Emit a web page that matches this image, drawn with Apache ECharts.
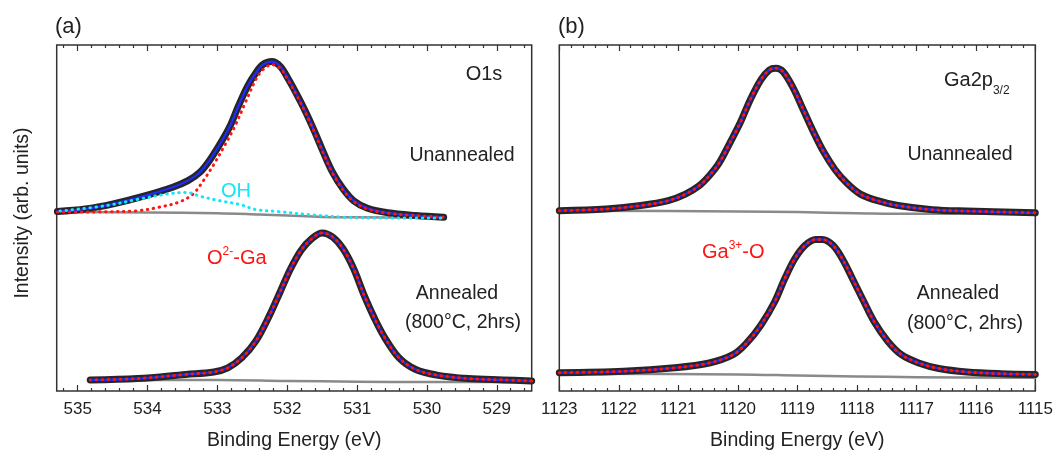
<!DOCTYPE html>
<html>
<head>
<meta charset="utf-8">
<script src="https://cdn.jsdelivr.net/npm/echarts@6/dist/echarts.min.js"></script>
<style>
  html, body { margin: 0; padding: 0; background: #fff; }
  #chart { width: 1057px; height: 456px; }
</style>
</head>
<body>
<div id="chart"></div>
<script>
// (a) O1s, unannealed: measured data (blue fit runs on it)
var aUnE = [535.29, 534.89, 534.49, 534.04, 533.64, 533.42, 533.25, 533.1, 532.95, 532.82, 532.7, 532.57, 532.45, 532.35, 532.22, 532.1, 531.98, 531.85, 531.73, 531.6, 531.48, 531.35, 531.2, 531.05, 530.85, 530.56, 530.16, 529.76];
var aUnI = [51.9, 52.6, 54.1, 56.4, 58.9, 60.8, 63.2, 67.0, 71.8, 76.5, 82.3, 88.0, 91.9, 94.3, 95.2, 93.8, 90.0, 85.2, 80.4, 74.6, 68.9, 63.2, 58.4, 55.0, 52.8, 51.5, 50.7, 50.2];
// O2- -Ga component
var aRedE = [535.29, 534.64, 534.14, 533.84, 533.55, 533.35, 533.2, 533.05, 532.9, 532.75, 532.6, 532.45, 532.35, 532.22, 532.1, 531.98, 531.85, 531.73, 531.6, 531.48, 531.35, 531.2, 531.05, 530.85, 530.56, 530.16, 529.76];
var aRedI = [51.7, 51.8, 52.1, 53.1, 54.6, 56.9, 60.8, 65.5, 70.8, 76.5, 83.3, 90.0, 92.8, 94.3, 93.3, 89.6, 84.9, 80.1, 74.3, 68.6, 62.9, 58.1, 54.8, 52.6, 51.4, 50.7, 50.2];
// OH component
var aOhE = [535.25, 534.59, 534.11, 533.73, 533.44, 533.25, 532.97, 532.68, 532.44, 532.15, 531.65, 531.15, 530.66, 529.8];
var aOhI = [52.0, 53.6, 55.5, 56.9, 57.4, 56.3, 55.0, 53.9, 52.4, 51.9, 50.9, 50.2, 50.0, 50.0];
// background
var aUnBgE = [535.3, 534, 533, 532.4, 532, 531.5, 531, 529.8];
var aUnBgI = [51.7, 51.6, 51.4, 51.0, 50.7, 50.3, 50.2, 50.0];

// (a) O1s, annealed
var aAnE = [534.82, 534.14, 533.45, 533.05, 532.85, 532.65, 532.45, 532.25, 532.1, 531.95, 531.8, 531.65, 531.5, 531.35, 531.2, 531.05, 530.9, 530.75, 530.6, 530.4, 530.16, 529.86, 529.41, 528.91, 528.5];
var aAnI = [3.2, 3.6, 4.8, 5.5, 6.7, 9.6, 14.4, 22.0, 28.7, 35.4, 40.7, 44.0, 45.7, 44.5, 41.1, 35.4, 27.7, 21.0, 15.3, 9.6, 6.2, 4.6, 3.6, 3.2, 2.9];
var aAnBgE = [534.8, 533, 532, 531, 530, 528.5];
var aAnBgI = [3.1, 3.2, 2.9, 2.7, 2.6, 2.6];

// (b) Ga2p3/2, unannealed
var bUnE = [1123, 1122.21, 1121.63, 1121.17, 1120.88, 1120.65, 1120.48, 1120.31, 1120.13, 1119.96, 1119.79, 1119.61, 1119.47, 1119.36, 1119.24, 1119.07, 1118.9, 1118.72, 1118.55, 1118.37, 1118.18, 1117.94, 1117.65, 1117.31, 1116.73, 1116.15, 1115];
var bUnI = [52.1, 52.6, 53.6, 55.0, 56.9, 59.3, 62.2, 66.0, 71.8, 77.5, 84.2, 90.0, 92.8, 93.3, 92.3, 87.6, 81.3, 74.6, 68.9, 64.1, 60.3, 56.9, 55.0, 53.6, 52.4, 52.0, 51.5];
var bUnBgE = [1123, 1120, 1119, 1118, 1117, 1115];
var bUnBgI = [52.1, 51.9, 51.7, 51.4, 51.2, 51.2];

// (b) Ga2p3/2, annealed
var bAnE = [1123, 1121.92, 1121.06, 1120.48, 1120.08, 1119.85, 1119.61, 1119.38, 1119.21, 1119.04, 1118.87, 1118.69, 1118.58, 1118.4, 1118.23, 1118.06, 1117.88, 1117.71, 1117.48, 1117.25, 1116.96, 1116.62, 1116.15, 1115.58, 1115];
var bAnI = [5.3, 5.7, 6.7, 8.1, 10.5, 13.9, 19.1, 25.8, 32.5, 38.3, 42.1, 43.8, 43.8, 42.1, 37.8, 32.0, 25.8, 20.1, 14.4, 10.5, 8.1, 6.5, 5.5, 5.0, 4.8];
var bAnBgE = [1123, 1120, 1119, 1118, 1117, 1115];
var bAnBgI = [5.0, 4.8, 4.5, 4.2, 4.0, 3.8];

// tick labels
var aMajor = [529, 530, 531, 532, 533, 534, 535];
var bMajor = [1115, 1116, 1117, 1118, 1119, 1120, 1121, 1122, 1123];

var FONT = '"Liberation Sans", Arial, Helvetica, sans-serif';
var INK = '#222';

function minorTicks(lo, hi) {
  var out = [];
  for (var i = Math.ceil(lo * 5); i <= Math.floor(hi * 5); i++) {
    if (i % 5 !== 0) out.push(i / 5);
  }
  return out;
}

function pairs(e, v) {
  return e.map(function (x, i) { return [x, v[i]]; });
}

// 4 x axes per panel: bottom major (with labels), bottom minor, top major, top minor
function panelAxes(g, lo, hi, major) {
  var minor = minorTicks(lo, hi);
  function ax(pos, ticks, len, labels) {
    return {
      type: 'value', gridIndex: g, min: lo, max: hi, inverse: true, position: pos,
      axisLine: { show: false },
      splitLine: { show: false },
      axisTick: { show: true, inside: true, length: len, customValues: ticks,
        lineStyle: { color: '#333', width: 1.2 } },
      axisLabel: labels ? { show: true, customValues: ticks, color: INK, fontSize: 17,
        fontFamily: FONT, margin: 10, formatter: function (v) { return String(v); } } : { show: false },
      name: labels ? 'Binding Energy (eV)' : '',
      nameLocation: 'middle', nameGap: 40,
      nameTextStyle: { color: INK, fontSize: 19.5, fontFamily: FONT }
    };
  }
  return [ax('bottom', major, 6, true), ax('bottom', minor, 3, false),
          ax('top', major, 6, false), ax('top', minor, 3, false)];
}

function line(g, e, v, color, width, dotted, z) {
  return {
    type: 'line', xAxisIndex: g * 4, yAxisIndex: g, data: pairs(e, v),
    showSymbol: false, smooth: 0.35, silent: true, z: z,
    lineStyle: dotted ? { color: color, width: 3, type: [0.5, 5.5], cap: 'round' }
                      : { color: color, width: width, cap: 'round', join: 'round' }
  };
}

var BLACK = '#262626', BLUE = '#1f2bff', RED = '#ff1414', CYAN = '#14e6f7', GRAY = '#8a8a8a';

function peak(g, e, v) {
  return [line(g, e, v, BLACK, 7, false, 3), line(g, e, v, BLUE, 2.2, false, 4)];
}

var series = [
  line(0, aUnBgE, aUnBgI, GRAY, 2.5, false, 2),
  line(0, aAnBgE, aAnBgI, GRAY, 2.5, false, 2),
  line(1, bUnBgE, bUnBgI, GRAY, 2.5, false, 2),
  line(1, bAnBgE, bAnBgI, GRAY, 2.5, false, 2)
].concat(
  peak(0, aUnE, aUnI), peak(0, aAnE, aAnI), peak(1, bUnE, bUnI), peak(1, bAnE, bAnI),
  [
    line(0, aRedE, aRedI, RED, 3, true, 5),
    line(0, aOhE, aOhI, CYAN, 3, true, 6),
    line(0, aAnE, aAnI, RED, 3, true, 5),
    line(1, bUnE, bUnI, RED, 3, true, 5),
    line(1, bAnE, bAnI, RED, 3, true, 5)
  ]
);

function txt(x, y, s, opt) {
  opt = opt || {};
  var style = {
    text: s, fill: opt.color || INK, fontSize: opt.size || 19.5, fontFamily: FONT,
    align: opt.align || 'center', verticalAlign: 'middle',
    textAlign: opt.align || 'center', textVerticalAlign: 'middle'
  };
  if (opt.rich) style.rich = opt.rich;
  return { type: 'text', x: x, y: y, rotation: opt.rot || 0, silent: true, z: 20, style: style };
}

function richSet(color) {
  return {
    n: { fontSize: 20, fontFamily: FONT, fill: color, color: color, lineHeight: 24 },
    sup: { fontSize: 12, fontFamily: FONT, fill: color, color: color, lineHeight: 14, verticalAlign: 'top' },
    sub: { fontSize: 12, fontFamily: FONT, fill: color, color: color, lineHeight: 12, verticalAlign: 'bottom', padding: [0, 0, -5, 0] }
  };
}

var graphics = [
  txt(55, 27, '(a)', { size: 22, align: 'left' }),
  txt(558, 27, '(b)', { size: 22, align: 'left' }),
  txt(23, 213, 'Intensity (arb. units)', { rot: Math.PI / 2 }),
  txt(484, 74, 'O1s', { size: 20 }),
  txt(462, 156, 'Unannealed'),
  txt(236, 191, 'OH', { color: CYAN, size: 20 }),
  txt(207, 258, '{n|O}{sup|2-}{n|-Ga}', { align: 'left', color: RED, rich: richSet(RED) }),
  txt(457, 294, 'Annealed'),
  txt(463, 323, '(800\u00b0C, 2hrs)'),
  txt(944, 80, '{n|Ga2p}{sub|3/2}', { align: 'left', rich: richSet(INK) }),
  txt(960, 155, 'Unannealed'),
  txt(702, 252, '{n|Ga}{sup|3+}{n|-O}', { align: 'left', color: RED, rich: richSet(RED) }),
  txt(958, 294, 'Annealed'),
  txt(965, 324, '(800\u00b0C, 2hrs)')
];

var chart = echarts.init(document.getElementById('chart'), null, { renderer: 'canvas' });
chart.setOption({
  animation: false,
  backgroundColor: '#fff',
  textStyle: { fontFamily: FONT },
  grid: [
    { left: 56.7, right: 525.3, top: 45, bottom: 62.7, show: true, borderColor: '#333', borderWidth: 1.5, backgroundColor: 'transparent' },
    { left: 559.3, right: 21.7, top: 45, bottom: 62.7, show: true, borderColor: '#333', borderWidth: 1.5, backgroundColor: 'transparent' }
  ],
  xAxis: panelAxes(0, 528.5, 535.3, aMajor).concat(panelAxes(1, 1115, 1123, bMajor)),
  yAxis: [0, 1].map(function (g) {
    return {
      type: 'value', gridIndex: g, min: 0, max: 100,
      axisLine: { show: false }, axisTick: { show: false },
      axisLabel: { show: false }, splitLine: { show: false }
    };
  }),
  series: series,
  graphic: graphics
});
</script>
</body>
</html>
